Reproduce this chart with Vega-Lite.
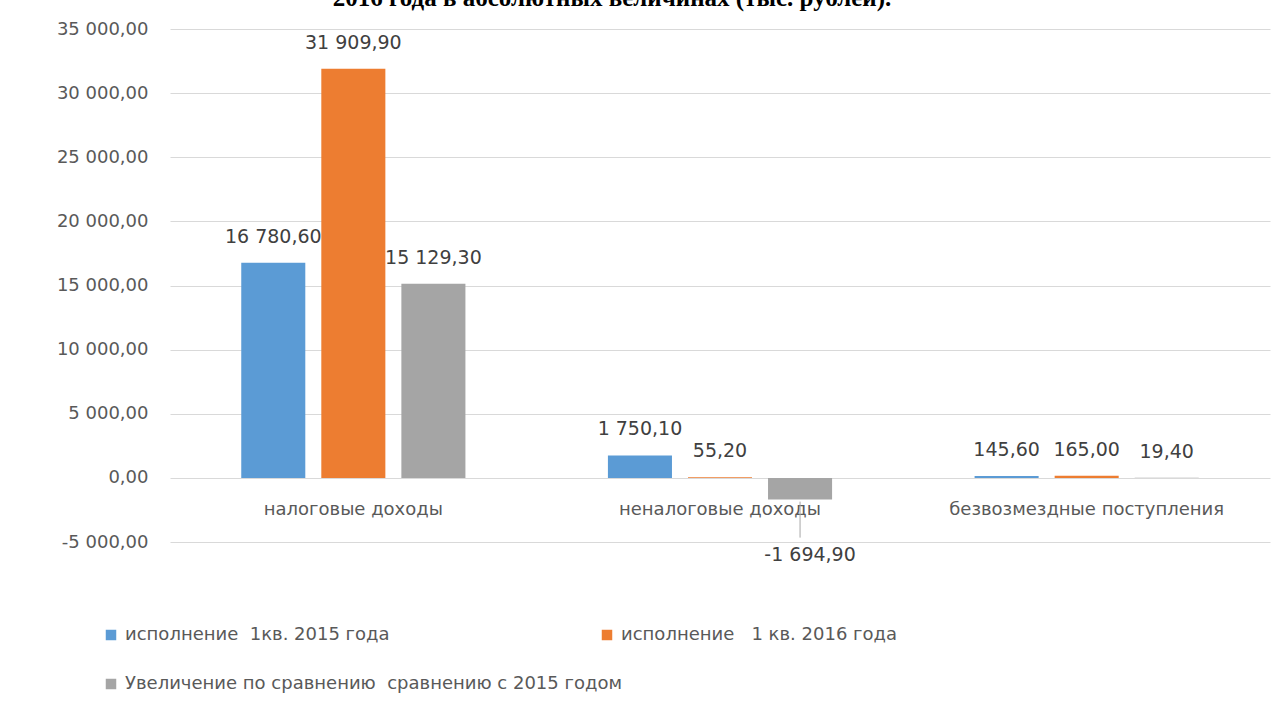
{
  "$schema": "https://vega.github.io/schema/vega-lite/v6.json",
  "width": 1100,
  "height": 513,
  "autosize": {"type": "none"},
  "padding": {"left": 170, "top": 29, "right": 18, "bottom": 167},
  "background": "white",
  "config": {
    "locale": {"number": {"decimal": ",", "thousands": " ", "grouping": [3], "currency": ["", ""], "minus": "-"}},
    "view": {"stroke": null},
    "font": "DejaVu Sans"
  },
  "title": {
    "text": "2016 года в абсолютных величинах (тыс. рублей).",
    "font": "Liberation Serif",
    "fontSize": 25,
    "fontWeight": "bold",
    "color": "#000000",
    "anchor": "middle",
    "baseline": "alphabetic",
    "offset": 0,
    "dy": 11,
    "dx": -108
  },
  "data": {
    "values": [
      {"cat": "налоговые доходы", "series": "исполнение\u00a0 1кв. 2015 года", "value": 16780.6},
      {"cat": "налоговые доходы", "series": "исполнение\u00a0 \u00a01 кв. 2016 года", "value": 31909.9},
      {"cat": "налоговые доходы", "series": "Увеличение по сравнению\u00a0 сравнению с 2015 годом", "value": 15129.3},
      {"cat": "неналоговые доходы", "series": "исполнение\u00a0 1кв. 2015 года", "value": 1750.1},
      {"cat": "неналоговые доходы", "series": "исполнение\u00a0 \u00a01 кв. 2016 года", "value": 55.2},
      {"cat": "неналоговые доходы", "series": "Увеличение по сравнению\u00a0 сравнению с 2015 годом", "value": -1694.9},
      {"cat": "безвозмездные поступления", "series": "исполнение\u00a0 1кв. 2015 года", "value": 145.6},
      {"cat": "безвозмездные поступления", "series": "исполнение\u00a0 \u00a01 кв. 2016 года", "value": 165.0},
      {"cat": "безвозмездные поступления", "series": "Увеличение по сравнению\u00a0 сравнению с 2015 годом", "value": 19.4}
    ]
  },
  "encoding": {
    "x": {
      "field": "cat",
      "type": "nominal",
      "sort": null,
      "scale": {"paddingInner": 0, "paddingOuter": 0},
      "axis": {
        "title": null,
        "orient": "bottom",
        "offset": -64,
        "domain": false,
        "ticks": false,
        "labelAngle": 0,
        "labelPadding": 22,
        "labelFontSize": 18,
        "labelColor": "#595959",
        "labelFont": "DejaVu Sans",
        "labelLimit": 400
      }
    },
    "xOffset": {
      "field": "series",
      "type": "nominal",
      "sort": null,
      "scale": {"paddingInner": 0.2, "paddingOuter": 0.89}
    },
    "y": {
      "field": "value",
      "type": "quantitative",
      "scale": {"domain": [-5000, 35000], "nice": false, "zero": false},
      "axis": {
        "title": null,
        "values": [-5000, 0, 5000, 10000, 15000, 20000, 25000, 30000, 35000],
        "format": ",.2f",
        "domain": false,
        "ticks": false,
        "labelPadding": 22,
        "labelFontSize": 18,
        "labelColor": "#595959",
        "labelFont": "DejaVu Sans",
        "gridColor": "#D9D9D9",
        "gridWidth": 1
      }
    }
  },
  "layer": [
    {
      "mark": {"type": "bar"},
      "encoding": {
        "color": {
          "field": "series",
          "type": "nominal",
          "sort": null,
          "scale": {
            "domain": ["исполнение\u00a0 1кв. 2015 года", "исполнение\u00a0 \u00a01 кв. 2016 года", "Увеличение по сравнению\u00a0 сравнению с 2015 годом"],
            "range": ["#5B9BD5", "#ED7D31", "#A5A5A5"]
          },
          "legend": {
            "title": null,
            "orient": "none",
            "legendX": -68,
            "legendY": 597,
            "direction": "horizontal",
            "columns": 2,
            "gridAlign": "none",
            "columnPadding": -24,
            "rowPadding": 31,
            "symbolType": "square",
            "symbolSize": 110,
            "symbolStrokeWidth": 0,
            "symbolOffset": 0,
            "labelOffset": 5,
            "labelFontSize": 18,
            "labelColor": "#595959",
            "labelFont": "DejaVu Sans",
            "labelLimit": 700
          }
        }
      }
    },
    {
      "transform": [{"filter": "datum.value >= 0"}],
      "mark": {"type": "text", "baseline": "middle", "dy": -26, "fontSize": 19, "color": "#404040", "font": "DejaVu Sans"},
      "encoding": {
        "text": {"field": "value", "type": "quantitative", "format": ",.2f"}
      }
    },
    {
      "transform": [{"filter": "datum.value < 0"}],
      "mark": {"type": "text", "baseline": "middle", "dy": 55, "dx": 10, "fontSize": 19, "color": "#404040", "font": "DejaVu Sans"},
      "encoding": {
        "text": {"field": "value", "type": "quantitative", "format": ",.2f"}
      }
    },
    {
      "transform": [{"filter": "datum.value < 0"}],
      "mark": {"type": "rule", "color": "#A6A6A6", "strokeWidth": 1, "yOffset": 2, "y2Offset": 38, "xOffset": 5, "x2Offset": 8},
      "encoding": {
        "y2": {"field": "value"}
      }
    }
  ]
}
